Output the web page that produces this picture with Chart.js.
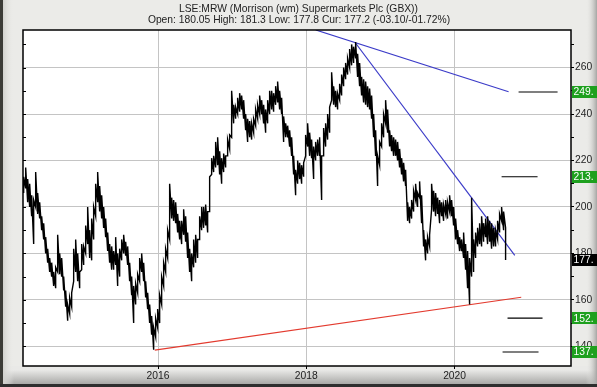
<!DOCTYPE html>
<html>
<head>
<meta charset="utf-8">
<script src="https://cdn.jsdelivr.net/npm/chart.js@4.4.1/dist/chart.umd.min.js"></script>
<style>
html,body{margin:0;padding:0;background:#ebebe8;overflow:hidden;}
canvas{display:block;}
</style>
</head>
<body>
<canvas id="c" width="597" height="387"></canvas>
<script>
// ---- DATA ----
const titleLine1 = "LSE:MRW (Morrison (wm) Supermarkets Plc (GBX))";
const titleLine2 = "Open: 180.05 High: 181.3 Low: 177.8 Cur: 177.2 (-03.10/-01.72%)";

// price bars sampled about every 10 days, from early 2014 to late 2020
const firstDate = 2014.188;
const stepYears = 0.02697;
const lows = [
 206,208,202,200,196,184,200,197,195,190,186,180,176,172,170,166,165,172,171,170,
 164,157,151,154,157,168,172,168,165,173,175,180,184,178,177,186,196,202,198,195,
 191,187,181,176,173,173,175,166,170,177,180,179,175,168,162,150,158,163,168,172,
 168,161,156,150,145,138.5,144,148,
 150,158,166,172,178,186,195,194,193,189,186,184,188,185,178,172,168,174,176,178,
 186,190,191,192,189,198,214,215,217,218,214,210,215,217,222,225,230,236,238,240,
 241,242,238,233,228,230,229,232,235,238,240,240,236,232,236,240,242,241,244,245,
 242,240,228,230,230,226,222,214,205,210,212,210,213,222,226,
 222,221,212,220,222,222,203,222,226,229,232,246,244,243,242,246,248,252,255,257,
 260,261,262,264,256,252,248,245,244,243,242,238,230,222,209,218,226,230,236,232,
 226,224,222,222,220,217,214,211,209,194,193,195,198,203,200,204,193,183,177,180,
 183,199,198,196,197,193,196,194,197,195,198,196,192,186,184,181,181,178,173,165,
 158,170,172,178,183,184,183,185,187,184,185,182,183,183,186,189,194,190,177.2
];
const highs = [
 213,217,212,210,205,203,215,206,202,196,193,187,182,178,176,172,174,188,180,178,
 170,164,158,161,163,182,186,180,172,184,183,192,200,190,195,200,210,215,209,205,
 200,195,189,184,183,181,187,180,182,186,188,185,183,176,170,166,167,171,178,180,
 176,168,163,158,153,148,152,156,
 162,170,176,182,190,210,204,203,202,197,194,194,199,196,189,182,180,186,188,186,
 196,200,200,201,198,213,221,222,228,230,224,221,223,222,229,231,250,244,243,247,
 249,248,246,240,238,237,236,238,242,244,248,246,244,242,246,250,250,249,252,254,
 250,247,239,236,235,233,230,222,216,220,219,218,219,231,236,
 232,229,226,228,229,230,222,234,236,240,243,258,252,250,249,253,257,260,262,264,
 268,270,269,271,266,262,256,255,254,252,251,248,240,233,222,228,236,240,246,242,
 233,231,230,229,228,225,221,219,216,202,200,203,207,210,206,211,205,190,186,187,
 188,210,207,206,204,203,202,201,203,202,205,203,200,195,190,187,186,189,184,181,
 178,204,186,189,191,193,196,193,195,196,194,193,191,190,194,197,200,198,191
];

// trend lines [startDate, startValue, endDate, endValue]
const resistTop   = [2018.127, 276.2, 2020.728, 249.6];
const resistDown  = [2018.666, 270.5, 2020.812, 179.1];
const supportLine = [2015.956, 138.3, 2020.899, 161.1];

// target levels
const targetValues = [249.5, 213.0, 152.1, 137.5];
const targetStarts = [2020.863, 2020.634, 2020.714, 2020.647];
const targetEnds   = [2021.389, 2021.119, 2021.186, 2021.132];

// right-hand value flags
const flagValues = [249.5, 213.0, 177.2, 152.1, 137.5];
const flagTexts  = ["249.", "213.", "177.", "152.", "137."];
const flagColors = ["#1ea01e", "#1ea01e", "#000000", "#1ea01e", "#1ea01e"];

const xTickYears = [2016, 2018, 2020];
const yTickValues = [140,150,160,170,180,190,200,210,220,230,240,250,260,270];
const xMin = 2014.179, xMax = 2021.57, yMin = 131.5, yMax = 276.2;

// ---- BUILD ----
const pricePts = [];
for (let i = 0; i < lows.length; i++) {
  const d = firstDate + i * stepYears;
  if (i === lows.length - 1) { pricePts.push({x:d,y:highs[i]}); pricePts.push({x:d,y:lows[i]}); }
  else { pricePts.push({x:d,y:lows[i]}); pricePts.push({x:d,y:highs[i]}); }
}
const seg = a => [{x:a[0],y:a[1]},{x:a[2],y:a[3]}];
const FONT = '10.3px "Liberation Sans", Arial, sans-serif';

const datasets = [
  {data: pricePts, borderColor:'#000', borderWidth:1.4},
  {data: seg(resistTop), borderColor:'#3b3bc8', borderWidth:1.2},
  {data: seg(resistDown), borderColor:'#3b3bc8', borderWidth:1.2},
  {data: seg(supportLine), borderColor:'#e33a2e', borderWidth:1.2}
];
targetValues.forEach((v,i)=>datasets.push({data:[{x:targetStarts[i],y:v},{x:targetEnds[i],y:v}], borderColor:'#000', borderWidth:1.1}));
datasets.forEach(d=>{d.pointRadius=0; d.tension=0; d.fill=false;});

const deco = {
  id:'deco',
  beforeDraw(chart){
    const {ctx, chartArea:a, width:w, height:h} = chart;
    ctx.save();
    ctx.fillStyle='#ebebe8'; ctx.fillRect(0,0,w,h);
    let g = ctx.createLinearGradient(0,a.bottom+4,0,h-3);
    g.addColorStop(0,'#e9e9e7'); g.addColorStop(1,'#a9a9a7');
    ctx.fillStyle=g; ctx.fillRect(0,a.bottom,w,h-a.bottom);
    g = ctx.createLinearGradient(586,0,w,0);
    g.addColorStop(0,'rgba(235,235,232,0)'); g.addColorStop(1,'#a5a5a3');
    ctx.fillStyle=g; ctx.fillRect(586,0,w-586,h);
    g = ctx.createLinearGradient(3,0,14,0);
    g.addColorStop(0,'#d2d2ce'); g.addColorStop(1,'rgba(235,235,232,0)');
    ctx.fillStyle=g; ctx.fillRect(3,0,11,h);
    ctx.fillStyle='#3c3c37'; ctx.fillRect(0,0,3,h);
    ctx.fillStyle='#2e2e2e'; ctx.fillRect(0,h-3,w,3);
    ctx.fillStyle='#fff'; ctx.fillRect(a.left,a.top,a.right-a.left,a.bottom-a.top);
    ctx.restore();
  },
  afterDraw(chart){
    const {ctx, chartArea:a} = chart;
    const ys = chart.scales.y;
    ctx.save();
    ctx.strokeStyle='#000'; ctx.lineWidth=1.5;
    ctx.strokeRect(a.left,a.top,a.right-a.left,a.bottom-a.top);
    ctx.lineWidth=1;
    yTickValues.forEach(v=>{
      const y=Math.round(ys.getPixelForValue(v))+0.5;
      ctx.beginPath(); ctx.moveTo(a.left,y); ctx.lineTo(a.left+3,y); ctx.stroke();
    });
    ctx.fillStyle='#222'; ctx.font=FONT; ctx.textAlign='center'; ctx.textBaseline='alphabetic';
    ctx.fillText(titleLine1, 298.5, 11.5);
    ctx.fillText(titleLine2, 299, 23);
    ctx.textAlign='left'; ctx.textBaseline='middle';
    flagValues.forEach((v,i)=>{
      const y=ys.getPixelForValue(v);
      ctx.fillStyle=flagColors[i];
      ctx.fillRect(a.right+1, Math.round(y-6), 597-a.right, 12);
      ctx.fillStyle='#fff';
      ctx.fillText(flagTexts[i], a.right+2.5, y+0.5);
    });
    ctx.restore();
  }
};

new Chart(document.getElementById('c'), {
  type:'line',
  data:{datasets},
  plugins:[deco],
  options:{
    responsive:false, animation:false, devicePixelRatio:1,
    layout:{padding:{left:23,top:30,right:0,bottom:0}},
    plugins:{legend:{display:false}, tooltip:{enabled:false}, title:{display:false}},
    scales:{
      x:{type:'linear', min:xMin, max:xMax,
        afterBuildTicks:s=>{s.ticks=xTickYears.map(v=>({value:v}));},
        afterFit:s=>{s.height=21;},
        grid:{color:'#c4c4c4', lineWidth:1, tickLength:3, tickColor:'#000'},
        border:{display:false},
        ticks:{color:'#222', font:{family:'"Liberation Sans", Arial', size:10.3}, padding:1, maxRotation:0, callback:v=>String(v)}
      },
      y:{type:'linear', position:'right', min:yMin, max:yMax,
        afterBuildTicks:s=>{s.ticks=yTickValues.map(v=>({value:v}));},
        afterFit:s=>{s.width=26;},
        grid:{color:c=>(c.tick && c.tick.value%20===0)?'#c4c4c4':'rgba(0,0,0,0)', lineWidth:1, tickLength:3, tickColor:'#000'},
        border:{display:false},
        ticks:{color:'#222', font:{family:'"Liberation Sans", Arial', size:10.3}, padding:1, callback:v=>(v%20===0 && v<270)?String(v):''}
      }
    }
  }
});
</script>
</body>
</html>
